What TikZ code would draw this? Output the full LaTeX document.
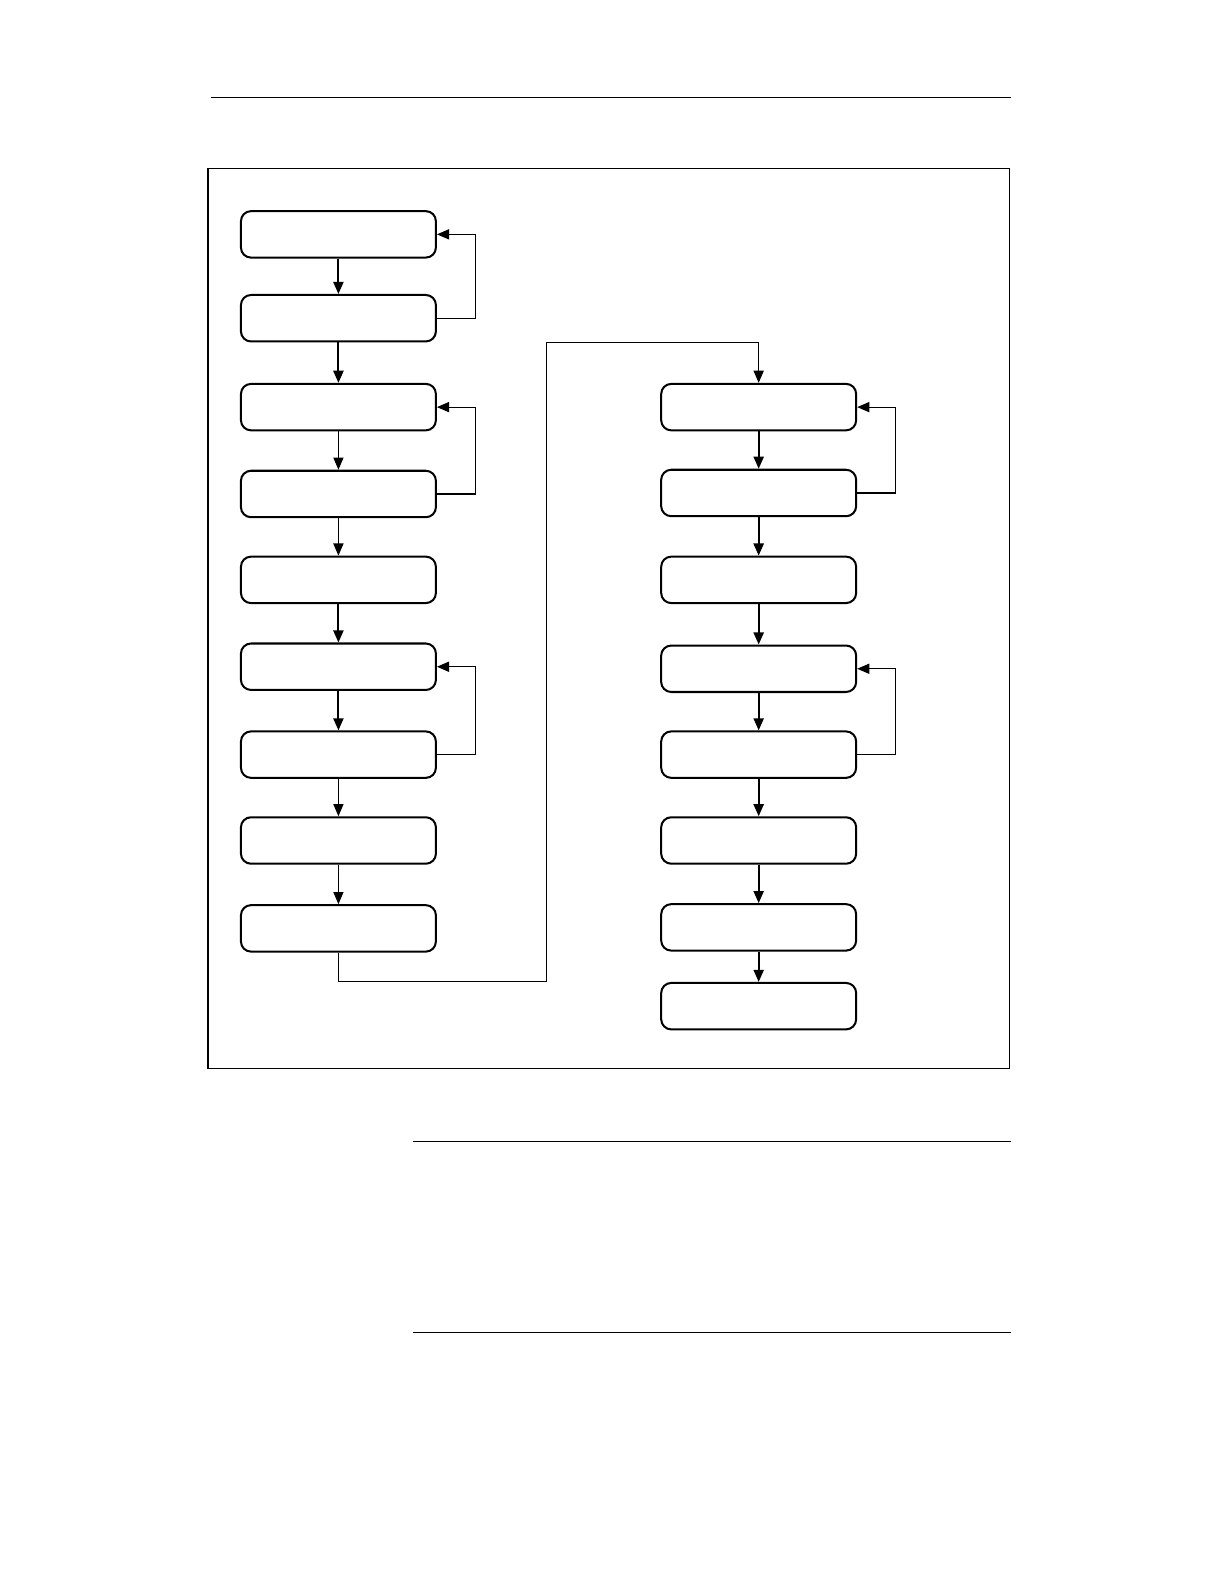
\documentclass[tikz,border=0pt]{standalone}
\usetikzlibrary{arrows.meta}

\begin{document}
\begin{tikzpicture}[x=0.5pt,y=-0.5pt,
    box/.style={draw, line width=1pt, rounded corners=5pt,
      minimum width=96.5pt, minimum height=23pt, inner sep=0pt},
    flow/.style={-{Triangle[length=6pt,width=5pt]}, line width=1pt},
    thinflow/.style={-{Triangle[length=6pt,width=5pt]}, line width=0.5pt},
    back/.style={-{Triangle[length=6pt,width=5pt]}, line width=0.6pt}]
  \useasboundingbox (0,0) rectangle (1212,1568);
  \draw[line width=0.5pt] (209,97) -- (1001,97);
  \draw[line width=0.6pt] (206,167) rectangle (999,1058);
  % left column
  \foreach \n/\y in {1/232,2/315,3/403,4/489,5/574,6/660,7/747,8/832,9/919}
    \node[box] (l\n) at (335,\y) {};
  % right column
  \foreach \n/\y in {1/403,2/488,3/574,4/662,5/747,6/832,7/918,8/996}
    \node[box] (r\n) at (751,\y) {};
  \draw[flow] (l1) -- (l2);
  \draw[flow] (l2) -- (l3);
  \draw[thinflow] (l3) -- (l4);
  \draw[thinflow] (l4) -- (l5);
  \draw[flow] (l5) -- (l6);
  \draw[flow] (l6) -- (l7);
  \draw[thinflow] (l7) -- (l8);
  \draw[thinflow] (l8) -- (l9);
  \foreach \a/\b in {1/2,2/3,3/4,4/5,5/6,6/7,7/8}
    \draw[flow] (r\a) -- (r\b);
  % loops back
  \draw[back] (l2.east) -- ++(38,0) |- (l1.east);
  \draw[back] (l4.east) -- ++(38,0) |- (l3.east);
  \draw[back] (l7.east) -- ++(38,0) |- (l6.east);
  \draw[back] (r2.east) -- ++(38,0) |- (r1.east);
  \draw[back] (r5.east) -- ++(38,0) |- (r4.east);
  % column change
  \coordinate (c1) at (541,972);
  \coordinate (c2) at (541,339);
  \draw[thinflow] (l9.south) |- (c1) -- (c2) -| (r1.north);
  % rules below
  \draw[line width=0.5pt] (409,1130) -- (1001,1130);
  \draw[line width=0.5pt] (409,1319) -- (1001,1319);
\end{tikzpicture}
\end{document}
